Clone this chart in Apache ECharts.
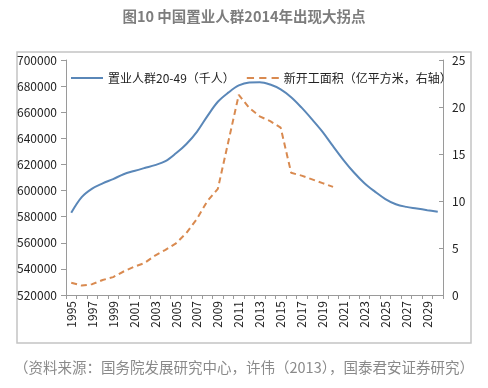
<!DOCTYPE html>
<html><head><meta charset="utf-8">
<script src="https://cdn.jsdelivr.net/npm/echarts@6/dist/echarts.min.js"></script>
<style>html,body{margin:0;padding:0;background:#fff}#c{width:488px;height:388px}</style>
</head><body><div id="c"></div>
<script>
const title = '图10 中国置业人群2014年出现大拐点';
const source = '（资料来源：国务院发展研究中心，许伟（2013），国泰君安证券研究）';
const years = ['1995','1996','1997','1998','1999','2000','2001','2002','2003','2004','2005','2006','2007','2008','2009','2010','2011','2012','2013','2014','2015','2016','2017','2018','2019','2020','2021','2022','2023','2024','2025','2026','2027','2028','2029','2030'];
const popName = '置业人群20-49（千人）';
const areaName = '新开工面积（亿平方米，右轴）';
const population = [583000,595000,601500,605500,608800,612500,615000,617300,619500,622500,628500,635700,645000,657000,668000,675000,680500,682800,683000,681200,677500,671500,663500,654500,645000,634000,623400,613800,605600,599200,593500,589500,587500,586300,585000,583700];
const newStarts = [1.3,1.0,1.15,1.6,1.9,2.5,3.0,3.4,4.2,4.8,5.5,6.6,8.1,10.0,11.3,16.3,21.3,19.9,19.0,18.5,17.8,13.0,12.7,12.3,11.9,11.5];
const leftTicks = {min:520000,max:700000,interval:20000};
const rightTicks = {min:0,max:25,interval:5};

const chart = echarts.init(document.getElementById('c'));
const font = '"Noto Sans CJK SC","Noto Sans",sans-serif';
chart.setOption({
  animation:false,
  textStyle:{fontFamily:font},
  title:[{text:title,left:'center',top:4,textStyle:{fontSize:14.5,fontWeight:'bold',color:'#7d7d7d',fontFamily:font}},
         {text:source,left:'center',top:355,textStyle:{fontSize:14.5,fontWeight:'normal',color:'#8a8a8a',fontFamily:font}}],
  graphic:[{type:'rect',shape:{x:17,y:52,width:454,height:291},style:{fill:'none',stroke:'#c4c4c4',lineWidth:1.5},z:-1}],
  legend:{top:67,left:66,itemGap:12,itemWidth:32,itemHeight:10,
    textStyle:{fontSize:12,color:'#222',fontFamily:font},
    data:[{name:popName,icon:'path://M0,4L32,4L32,6L0,6Z'},{name:areaName,icon:'path://M0,4L7,4L7,6L0,6ZM12,4L19,4L19,6L12,6ZM24,4L31,4L31,6L24,6Z'}]},
  grid:{left:66,right:45,top:60,bottom:93},
  xAxis:{type:'category',data:years,boundaryGap:true,
    axisLine:{lineStyle:{color:'#9a9a9a',width:1}},
    axisTick:{show:true,interval:0,length:4,lineStyle:{color:'#9a9a9a'}},
    axisLabel:{interval:1,rotate:90,fontSize:12,color:'#222',margin:6,fontFamily:font}},
  yAxis:[{type:'value',min:leftTicks.min,max:leftTicks.max,interval:leftTicks.interval,
    axisLine:{show:true,lineStyle:{color:'#9a9a9a'}},axisTick:{show:true,length:5,lineStyle:{color:'#9a9a9a'}},
    splitLine:{show:false},axisLabel:{fontSize:12,color:'#222',margin:9,fontFamily:font,formatter:v=>String(v)}},
    {type:'value',min:rightTicks.min,max:rightTicks.max,interval:rightTicks.interval,position:'right',
    axisLine:{show:true,lineStyle:{color:'#9a9a9a'}},axisTick:{show:true,inside:true,length:4,lineStyle:{color:'#9a9a9a'}},
    splitLine:{show:false},axisLabel:{fontSize:12,color:'#222',margin:9,fontFamily:font}}],
  series:[{name:popName,type:'line',data:population,smooth:0.35,showSymbol:false,yAxisIndex:0,
      lineStyle:{color:'#5a87b8',width:2},itemStyle:{color:'#5a87b8'}},
    {name:areaName,type:'line',data:newStarts,smooth:false,showSymbol:false,yAxisIndex:1,
      lineStyle:{color:'#d98a50',width:2,type:[6,4]},itemStyle:{color:'#d98a50'}}]
});
</script></body></html>
